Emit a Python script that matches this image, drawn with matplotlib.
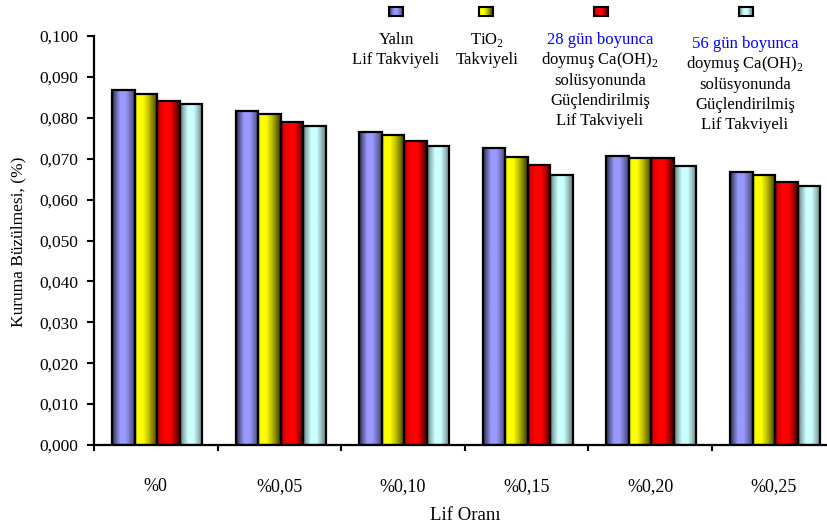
import numpy as np
import matplotlib
matplotlib.use("Agg")
from matplotlib import pyplot as plt
from matplotlib.patches import Rectangle

plt.rcParams['font.family'] = ['Liberation Serif', 'DejaVu Serif']
plt.rcParams['mathtext.fontset'] = 'custom'
plt.rcParams['mathtext.rm'] = 'Liberation Serif'

categories = ["%0", "%0,05", "%0,10", "%0,15", "%0,20", "%0,25"]
yalin = [0.0868, 0.0817, 0.0766, 0.0725, 0.0707, 0.0667]
tio2 = [0.0859, 0.0809, 0.0757, 0.0705, 0.0701, 0.0661]
gun28 = [0.0841, 0.0790, 0.0743, 0.0684, 0.0701, 0.0643]
gun56 = [0.0833, 0.0781, 0.0730, 0.0661, 0.0682, 0.0633]
yticks = [0.0, 0.01, 0.02, 0.03, 0.04, 0.05, 0.06, 0.07, 0.08, 0.09, 0.1]

series = [yalin, tio2, gun28, gun56]
colors = ["#9999FF", "#FFFF00", "#FF0000", "#CCFFFF"]
# shading across each bar (left -> right), makes the cylinder look
shade_pos = [0.0, 0.1, 0.35, 0.6, 1.0]
shades = [
    [0.2, 0.5, 1.0, 1.0, 0.45],
    [0.8, 1.0, 1.0, 0.75, 0.22],
    [0.45, 0.85, 1.0, 1.0, 0.28],
    [0.45, 0.65, 1.0, 1.0, 0.5],
]


def gradient(color, shade, n=64):
    rgb = np.array(matplotlib.colors.to_rgb(color))
    t = np.linspace(0, 1, n)
    m = np.interp(t, shade_pos, shade)
    return (m[:, None] * rgb[None, :]).reshape(1, n, 3)


fig = plt.figure(figsize=(8.28, 5.30), dpi=100)
ax = fig.add_axes([94 / 828, 85 / 530, 741.6 / 828, 409 / 530])

width = 0.182
for j, (vals, col) in enumerate(zip(series, colors)):
    img = gradient(col, shades[j])
    for i, v in enumerate(vals):
        x0 = i + 0.51 + (j - 2) * width
        ax.imshow(img, extent=[x0, x0 + width, 0, v], aspect='auto',
                  interpolation='bilinear', zorder=2)
        ax.add_patch(Rectangle((x0, 0), width, v, fill=False,
                               edgecolor='black', linewidth=1.6, zorder=3))

ax.set_xlim(0, 6)
ax.set_ylim(0, 0.1)
ax.set_yticks(yticks)
ax.set_yticklabels([("%.3f" % t).replace(".", ",") for t in yticks], fontsize=12.5)
ax.set_xticks(range(7))
ax.set_xticklabels([])
ax.set_xticks([i + 0.5 for i in range(6)], minor=True)
ax.set_xticklabels(categories, minor=True, fontsize=13)
ax.tick_params(axis='x', which='minor', length=0, pad=24)
ax.tick_params(axis='x', which='major', length=4, width=1.5, direction='out')
ax.tick_params(axis='y', length=5, width=1.5, direction='out', pad=6)
for s in ['top', 'right']:
    ax.spines[s].set_visible(False)
for s in ['left', 'bottom']:
    ax.spines[s].set_linewidth(1.6)

fig.text(465 / 828, 1 - 515 / 530, "Lif Oranı", ha='center', va='center', fontsize=13.5)
fig.text(18 / 828, 1 - 242 / 530, "Kuruma Büzülmesi, (%)", rotation=90,
         ha='center', va='center', fontsize=12.5)

# legend drawn by hand: small shaded squares with text blocks underneath
legend_x = [396, 486, 601, 746]
legend_text = [
    ["Yalın", "Lif Takviyeli"],
    ["TiO$_2$", "Takviyeli"],
    ["doymuş Ca(OH)$_2$", "solüsyonunda", "Güçlendirilmiş", "Lif Takviyeli"],
    ["doymuş Ca(OH)$_2$", "solüsyonunda", "Güçlendirilmiş", "Lif Takviyeli"],
]
legend_head = [None, None, "28 gün boyunca", "56 gün boyunca"]
text_x = [396, 487, 600, 745]
for k, cx in enumerate(legend_x):
    sq = fig.add_axes([(cx - 7) / 828, 1 - 16 / 530, 14 / 828, 9 / 530])
    sq.imshow(gradient(colors[k], shades[k]), aspect='auto', interpolation='bilinear')
    sq.set_xticks([])
    sq.set_yticks([])
    for s in sq.spines.values():
        s.set_linewidth(1.5)

    tx = text_x[k] / 828
    y = 40 if k < 3 else 44
    if legend_head[k]:
        fig.text(tx, 1 - y / 530, legend_head[k], ha='center',
                 va='center', fontsize=12, color='#0000FF')
        y += 20.5
    for line in legend_text[k]:
        fig.text(tx, 1 - y / 530, line, ha='center', va='center', fontsize=12)
        y += 20.3

fig.savefig("out.png", dpi=100)
